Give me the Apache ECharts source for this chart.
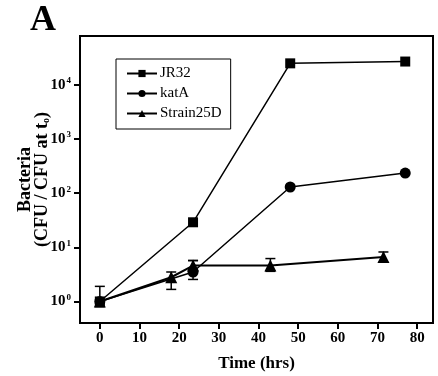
<!doctype html>
<html lang="en">
<head>
    <meta charset="UTF-8">
    <script src="https://cdn.jsdelivr.net/npm/echarts@6.0.0/dist/echarts.min.js"></script>
    <title>Bacteria growth</title>
    <style>
        html, body { margin: 0; padding: 0; background: #fff; }
    </style>
</head>
<body>
<div id="main" style="width: 438px;height:376px;"></div>
<script>
    // data (time in hrs, CFU / CFU at t0)
    var xTicks = [0, 10, 20, 30, 40, 50, 60, 70, 80];
    var yTicks = [1, 10, 100, 1000, 10000];

    var jrTimes = [0, 23.5, 48, 77];
    var jrValues = [1, 29, 25000, 27000];

    var kataTimes = [0, 23.5, 48, 77];
    var kataValues = [1, 3.5, 130, 235];

    var strainTimes = [0, 18, 23.5, 43, 71.5];
    var strainValues = [1, 2.8, 4.6, 4.6, 6.6];

    // error bars: time, low, high
    var errTimes = [0, 18, 23.5, 23.5, 43, 71.5];
    var errLow = [0.8, 1.67, 2.55, 3.9, 3.6, 5.3];
    var errHigh = [1.9, 3.5, 5.7, 5.7, 6.2, 8.2];

    function pairs(xs, ys) {
        var out = [];
        for (var i = 0; i < xs.length; i++) {
            out.push([xs[i], ys[i]]);
        }
        return out;
    }

    var errData = [];
    for (var i = 0; i < errTimes.length; i++) {
        errData.push([errTimes[i], errLow[i], errHigh[i]]);
    }

    var serif = '"Liberation Serif", "DejaVu Serif", serif';

    var myChart = echarts.init(document.getElementById('main'));

    var lineStyle = {color: '#000', width: 1.5};

    var option = {
        backgroundColor: '#fff',
        animation: false,
        title: {
            text: 'A',
            left: 25,
            top: -2,
            textStyle: {fontFamily: serif, fontSize: 36, fontWeight: 'bold', color: '#000'}
        },
        legend: {
            left: 116,
            top: 59,
            orient: 'vertical',
            itemGap: 5,
            itemWidth: 30,
            itemHeight: 9,
            padding: [7, 9, 8, 10],
            borderColor: '#000',
            borderWidth: 1,
            data: ['JR32', 'katA', 'Strain25D'],
            textStyle: {fontFamily: serif, fontSize: 15, color: '#000', padding: [0, 0, 0, -2]}
        },
        grid: {
            left: 80,
            top: 36,
            right: 5,
            bottom: 53,
            outerBoundsMode: 'none',
            show: true,
            borderColor: '#000',
            borderWidth: 2
        },
        xAxis: {
            type: 'value',
            min: -5,
            max: 84,
            name: 'Time (hrs)',
            nameLocation: 'middle',
            nameGap: 32,
            nameMoveOverlap: false,
            nameTextStyle: {fontFamily: serif, fontSize: 17, fontWeight: 'bold', color: '#000'},
            splitLine: {show: false},
            axisLine: {onZero: false, lineStyle: {color: '#000', width: 2}},
            axisTick: {customValues: xTicks, length: 6, lineStyle: {color: '#000', width: 2}},
            axisLabel: {
                customValues: xTicks,
                margin: 8,
                fontFamily: serif,
                fontSize: 15,
                fontWeight: 'bold',
                color: '#000'
            }
        },
        yAxis: {
            type: 'log',
            logBase: 10,
            min: 0.4,
            max: 80000,
            name: '{a|Bacteria}\n{a|(CFU / CFU at t}{sub|o}{a|)}',
            nameLocation: 'middle',
            nameGap: 29,
            nameMoveOverlap: false,
            nameTextStyle: {
                rich: {
                    a: {fontFamily: serif, fontSize: 18, fontWeight: 'bold', color: '#000', lineHeight: 17},
                    sub: {fontFamily: serif, fontSize: 10, fontWeight: 'bold', color: '#000', padding: [7, 0, 0, 0]}
                }
            },
            splitLine: {show: false},
            minorTick: {show: false},
            axisLine: {onZero: false, lineStyle: {color: '#000', width: 2}},
            axisTick: {customValues: yTicks, length: 6, lineStyle: {color: '#000', width: 2}},
            axisLabel: {
                customValues: yTicks,
                margin: 9,
                formatter: function (v) {
                    return '{b|10}{s|' + Math.round(Math.log10(v)) + '}';
                },
                rich: {
                    b: {fontFamily: serif, fontSize: 15, fontWeight: 'bold', color: '#000'},
                    s: {fontFamily: serif, fontSize: 9, fontWeight: 'bold', color: '#000', padding: [0, 0, 8, 1]}
                }
            }
        },
        series: [
            {
                name: 'JR32',
                type: 'line',
                data: pairs(jrTimes, jrValues),
                symbol: 'rect',
                symbolSize: 10,
                itemStyle: {color: '#000'},
                lineStyle: lineStyle,
                z: 3
            },
            {
                name: 'katA',
                type: 'line',
                data: pairs(kataTimes, kataValues),
                symbol: 'circle',
                symbolSize: 11,
                itemStyle: {color: '#000'},
                lineStyle: lineStyle,
                z: 3
            },
            {
                name: 'Strain25D',
                type: 'line',
                data: pairs(strainTimes, strainValues),
                symbol: 'triangle',
                symbolSize: 12,
                itemStyle: {color: '#000'},
                lineStyle: {color: '#000', width: 2},
                z: 3
            },
            {
                type: 'custom',
                data: errData,
                encode: {x: 0, y: [1, 2]},
                z: 2,
                renderItem: function (params, api) {
                    var lo = api.coord([api.value(0), api.value(1)]);
                    var hi = api.coord([api.value(0), api.value(2)]);
                    var cap = 5;
                    var style = {stroke: '#000', lineWidth: 1.5};
                    return {
                        type: 'group',
                        children: [
                            {type: 'line', shape: {x1: lo[0], y1: lo[1], x2: hi[0], y2: hi[1]}, style: style},
                            {type: 'line', shape: {x1: lo[0] - cap, y1: lo[1], x2: lo[0] + cap, y2: lo[1]}, style: style},
                            {type: 'line', shape: {x1: hi[0] - cap, y1: hi[1], x2: hi[0] + cap, y2: hi[1]}, style: style}
                        ]
                    };
                }
            }
        ]
    };

    myChart.setOption(option);
</script>
</body>
</html>
